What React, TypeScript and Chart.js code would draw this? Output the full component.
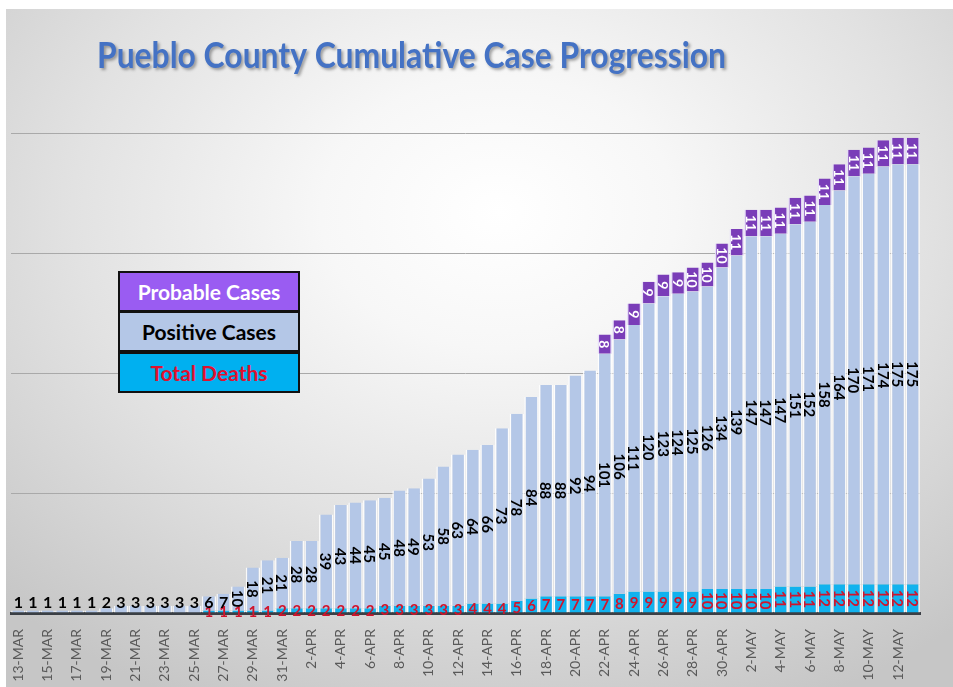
import React, { useEffect, useRef } from "react";
import { Chart, registerables } from "chart.js";

Chart.register(...registerables);

const TITLE = "Pueblo County Cumulative Case Progression";

const dates = [
  "13-MAR","14-MAR","15-MAR","16-MAR","17-MAR","18-MAR","19-MAR","20-MAR","21-MAR","22-MAR",
  "23-MAR","24-MAR","25-MAR","26-MAR","27-MAR","28-MAR","29-MAR","30-MAR","31-MAR",
  "1-APR","2-APR","3-APR","4-APR","5-APR","6-APR","7-APR","8-APR","9-APR","10-APR",
  "11-APR","12-APR","13-APR","14-APR","15-APR","16-APR","17-APR","18-APR","19-APR","20-APR",
  "21-APR","22-APR","23-APR","24-APR","25-APR","26-APR","27-APR","28-APR","29-APR","30-APR",
  "1-MAY","2-MAY","3-MAY","4-MAY","5-MAY","6-MAY","7-MAY","8-MAY","9-MAY","10-MAY",
  "11-MAY","12-MAY","13-MAY",
];

const positiveCases = [
  1,1,1,1,1,1,2,3,3,3,3,3,3,6,7,10,18,21,21,28,28,39,43,44,45,45,48,49,53,58,63,64,66,73,78,84,
  88,88,92,94,101,106,111,120,123,124,125,126,134,139,147,147,147,151,152,158,164,170,171,174,175,175,
];

const totalDeaths = [
  null,null,null,null,null,null,null,null,null,null,null,null,null,
  1,1,1,1,1,2,2,2,2,2,2,2,3,3,3,3,3,3,4,4,4,5,6,7,7,7,7,7,8,
  9,9,9,9,9,10,10,10,10,10,11,11,11,12,12,12,12,12,12,12,
];

const probableCases = [
  null,null,null,null,null,null,null,null,null,null,null,null,null,null,null,null,null,null,null,null,
  null,null,null,null,null,null,null,null,null,null,null,null,null,null,null,null,null,null,null,null,
  8,8,9,9,9,9,10,10,10,11,11,11,11,11,11,11,11,11,11,11,11,11,
];

const FONT = "Lato, 'Open Sans', sans-serif";

const labelPlugin = {
  id: "barLabels",
  afterDatasetsDraw(chart: any) {
    const ctx = chart.ctx;
    const yScale = chart.scales.y;
    const axisBase = yScale.getPixelForValue(0);
    ctx.save();
    ctx.textAlign = "center";
    ctx.textBaseline = "middle";
    chart.data.datasets.forEach((ds: any, di: number) => {
      const meta = chart.getDatasetMeta(di);
      meta.data.forEach((el: any, i: number) => {
        const v = ds.data[i];
        if (v === null || v === undefined || v === 0) return;
        const x = el.x;
        let cy = (el.y + el.base) / 2;
        let rotate = false;
        if (ds.label === "Positive Cases") {
          ctx.fillStyle = "#000000";
          rotate = v >= 10;
          ctx.font = `bold ${rotate ? 15 : 16}px ${FONT}`;
          if (!rotate) cy = Math.min(cy, axisBase - 11);
        } else if (ds.label === "Total Deaths") {
          ctx.fillStyle = "#D0142C";
          rotate = v >= 10;
          ctx.font = `bold 15px ${FONT}`;
        } else {
          ctx.fillStyle = "#FFFFFF";
          ctx.font = `bold 14px ${FONT}`;
          rotate = true;
        }
        if (rotate) {
          ctx.save();
          ctx.translate(x, cy);
          ctx.rotate(Math.PI / 2);
          ctx.fillText(String(v), 0, 1);
          ctx.restore();
        } else {
          ctx.fillText(String(v), x, cy + 1);
        }
      });
    });
    ctx.restore();
  },
  afterDraw(chart: any) {
    const ctx = chart.ctx;
    ctx.save();
    ctx.font = `bold 36px ${FONT}`;
    const w = ctx.measureText(TITLE).width;
    const target = 629;
    const sx = target / w;
    ctx.translate(97, 68);
    ctx.scale(sx, 1);
    ctx.textAlign = "left";
    ctx.textBaseline = "alphabetic";
    ctx.shadowColor = "rgba(0,0,0,0.35)";
    ctx.shadowOffsetX = 2;
    ctx.shadowOffsetY = 2;
    ctx.shadowBlur = 3;
    ctx.fillStyle = "#4472C4";
    ctx.fillText(TITLE, 0, 0);
    ctx.restore();
  },
};

export default function App() {
  const canvasRef = useRef<HTMLCanvasElement | null>(null);

  useEffect(() => {
    if (!canvasRef.current) return;
    const barBorder = { left: 1.5, right: 1.5, top: 0, bottom: 0 };
    const chart = new Chart(canvasRef.current, {
      type: "bar",
      data: {
        labels: dates,
        datasets: [
          {
            label: "Total Deaths",
            data: totalDeaths,
            backgroundColor: "#12B2EE",
            borderColor: "rgba(255,255,255,0.85)",
            borderWidth: barBorder,
            borderSkipped: false,
            barPercentage: 0.98,
            categoryPercentage: 1,
          },
          {
            label: "Positive Cases",
            data: positiveCases,
            backgroundColor: "#B4C7E7",
            borderColor: "rgba(255,255,255,0.85)",
            borderWidth: barBorder,
            borderSkipped: false,
            barPercentage: 0.98,
            categoryPercentage: 1,
          },
          {
            label: "Probable Cases",
            data: probableCases,
            backgroundColor: "#7A3DB8",
            borderColor: "rgba(230,220,250,0.9)",
            borderWidth: barBorder,
            borderSkipped: false,
            barPercentage: 0.98,
            categoryPercentage: 1,
          },
        ] as any,
      },
      options: {
        animation: false,
        responsive: false,
        maintainAspectRatio: false,
        layout: { padding: { left: 11, right: 33, top: 133, bottom: 0 } },
        plugins: {
          legend: { display: false },
          title: { display: false },
          tooltip: { enabled: false },
        },
        scales: {
          x: {
            stacked: true,
            grid: { display: false },
            border: { display: true, color: "#3A3F45", width: 3 },
            ticks: {
              autoSkip: false,
              maxRotation: 90,
              minRotation: 90,
              padding: 8,
              color: "#595959",
              font: { family: FONT, size: 14 },
              callback: function (this: any, _v: any, index: number) {
                return index % 2 === 0 ? dates[index] : "";
              },
            },
            afterFit: (s: any) => {
              s.height = 74;
            },
          },
          y: {
            stacked: true,
            min: 0,
            max: 200,
            ticks: { display: false, stepSize: 50 },
            grid: {
              drawTicks: false,
              color: (c: any) => (c.tick && c.tick.value === 0 ? "rgba(0,0,0,0)" : "#A9A9A9"),
              lineWidth: 1,
            },
            border: { display: false },
            afterFit: (s: any) => {
              s.width = 0;
            },
          },
        },
      },
      plugins: [labelPlugin],
    });
    return () => chart.destroy();
  }, []);

  const legendRow = (text: string, bg: string, color: string, top: number) => (
    <div
      style={{
        position: "absolute",
        left: 118,
        top,
        width: 178,
        height: 37,
        background: bg,
        color,
        border: "2px solid #111",
        font: `bold 21px ${FONT}`,
        display: "flex",
        alignItems: "center",
        justifyContent: "center",
      }}
    >
      {text}
    </div>
  );

  return (
    <div
      style={{
        position: "fixed",
        left: 0,
        top: 0,
        width: 953,
        height: 687,
        background: "#ffffff",
        overflow: "hidden",
      }}
    >
      <div
        style={{
          position: "absolute",
          left: 6,
          top: 9,
          width: 947,
          height: 678,
          background:
            "radial-gradient(ellipse 75% 80% at 52% 30%, #ffffff 0%, #f7f7f7 25%, #e2e2e2 60%, #cdcdcd 90%, #c6c6c6 100%)",
        }}
      />
      <canvas
        ref={canvasRef}
        width={953}
        height={687}
        style={{ position: "absolute", left: 0, top: 0, width: 953, height: 687 }}
      />
      {legendRow("Probable Cases", "#9A5CF2", "#FFFFFF", 271)}
      {legendRow("Positive Cases", "#B4C7E7", "#000000", 311)}
      {legendRow("Total Deaths", "#00B0F0", "#E0102F", 352)}
    </div>
  );
}
